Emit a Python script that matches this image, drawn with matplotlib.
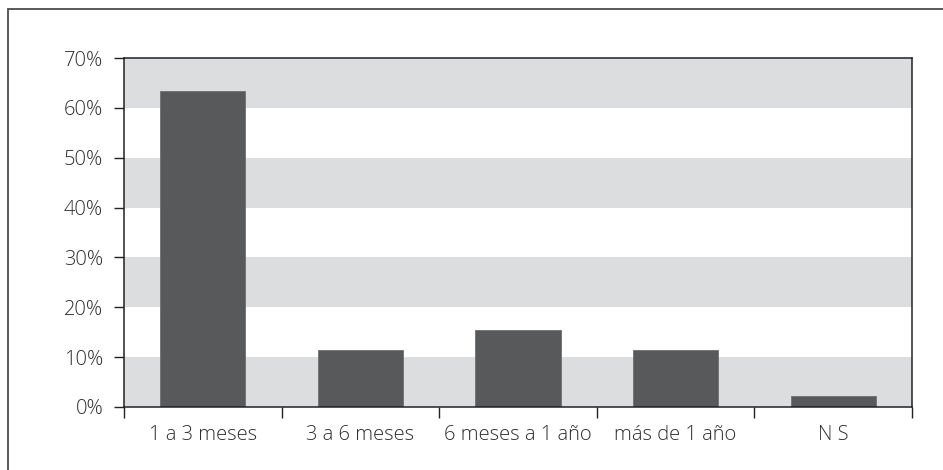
import matplotlib
matplotlib.use("Agg")
import matplotlib.pyplot as plt
from matplotlib.patches import Rectangle
import numpy as np

categories = ["1 a 3 meses", "3 a 6 meses", "6 meses a 1 año", "más de 1 año", "N S"]
values = [63.3, 11.4, 15.4, 11.4, 2.2]
y_ticks = [0, 10, 20, 30, 40, 50, 60, 70]
y_tick_labels = ["0%", "10%", "20%", "30%", "40%", "50%", "60%", "70%"]
shaded_bands = [(0, 10), (20, 30), (40, 50), (60, 70)]

plt.rcParams["font.family"] = ["Open Sans", "DejaVu Sans"]
plt.rcParams["font.weight"] = 300

W, H = 943, 470
fig = plt.figure(figsize=(W / 100, H / 100), dpi=100)
ax = fig.add_axes([124 / W, 1 - 407 / H, (912 - 124) / W, (407 - 58) / H])

# outer frame (only top and left edges fall inside the canvas)
fig.patches.append(Rectangle((8 / W, -0.2), 1.2, 1.2 - 9 / H,
                             transform=fig.transFigure, fill=False,
                             edgecolor="#4d4d4d", linewidth=1.3))

for lo, hi in shaded_bands:
    ax.axhspan(lo, hi, color="#dcddde", zorder=0, linewidth=0)

x = np.arange(len(categories))
ax.bar(x, values, width=0.54, color="#58595b", edgecolor="#6e6f71",
       linewidth=0.6, zorder=2)

ax.set_xlim(-0.5, len(categories) - 0.5)
ax.set_ylim(0, 70)
ax.set_yticks(y_ticks)
ax.set_yticklabels(y_tick_labels)
ax.set_xticks(x)
ax.set_xticklabels(categories)
ax.set_xticks(np.arange(-0.5, len(categories), 1.0), minor=True)

ax.tick_params(axis="y", which="major", direction="out", length=7, width=1,
               pad=8, labelsize=14.5, labelcolor="#2e2e2e", color="#222222")
ax.tick_params(axis="x", which="major", length=0, pad=13,
               labelsize=14.5, labelcolor="#2e2e2e")
ax.tick_params(axis="x", which="minor", direction="out", length=8, width=1,
               color="#222222")

for side in ["left", "right", "top", "bottom"]:
    ax.spines[side].set_color("#222222")
    ax.spines[side].set_linewidth(1.1)

fig.savefig("out.png", dpi=100)
